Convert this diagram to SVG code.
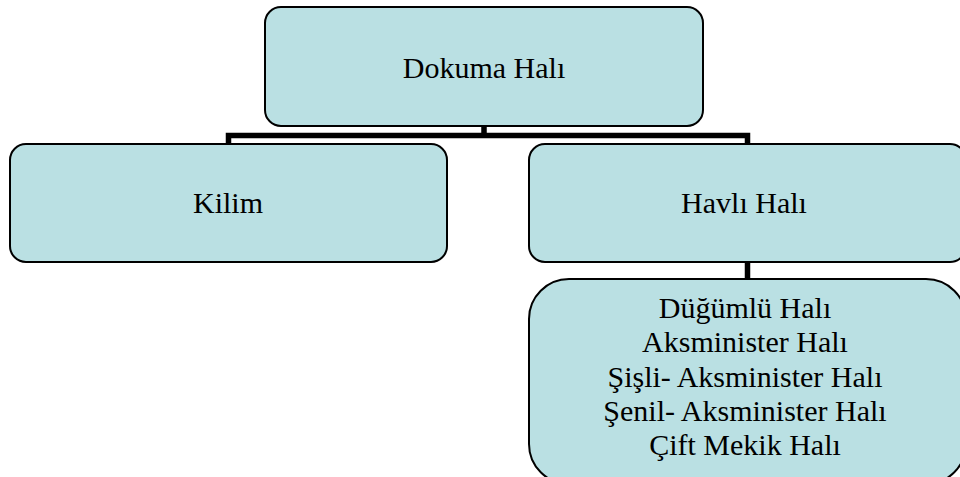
<svg xmlns="http://www.w3.org/2000/svg" width="960" height="477" viewBox="0 0 960 477">
<style>
.box{fill:#BAE0E3;stroke:#000;stroke-width:2}
.lbl{font-size:30px;fill:#000;text-anchor:middle}
.conn{fill:none;stroke:#000;stroke-width:5.5}
</style>
<rect width="960" height="477" fill="#fff"/>
<g id="connectors">
<path class="conn" d="M484 126 V135.5 M228.5 144 V135.5 H747.5 V144"/>
<path class="conn" d="M747.5 262 V279"/>
</g>
<g font-family="Liberation Serif, Times New Roman, DejaVu Serif, serif">
<g id="dokuma">
<rect class="box" x="265" y="7" width="438" height="119" rx="16"/>
<text class="lbl" x="484" y="78">Dokuma Halı</text>
</g>
<g id="kilim">
<rect class="box" x="10" y="144" width="437" height="118" rx="16"/>
<text class="lbl" x="228" y="213">Kilim</text>
</g>
<g id="havli">
<rect class="box" x="529" y="144" width="437" height="118" rx="16"/>
<text class="lbl" x="744" y="213">Havlı Halı</text>
</g>
<g id="turler">
<rect class="box" x="529" y="279" width="437" height="205" rx="40"/>
<text class="lbl" x="745" y="318">Düğümlü Halı</text>
<text class="lbl" x="745" y="352">Aksminister Halı</text>
<text class="lbl" x="745" y="387">Şişli- Aksminister Halı</text>
<text class="lbl" x="745" y="421">Şenil- Aksminister Halı</text>
<text class="lbl" x="745" y="455">Çift Mekik Halı</text>
</g>
</g>
</svg>
